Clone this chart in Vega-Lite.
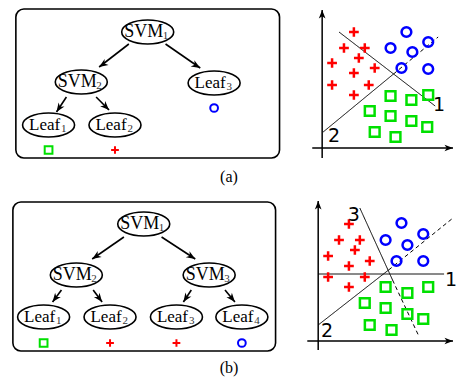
{
  "$schema": "https://vega.github.io/schema/vega-lite/v6.json",
  "width": 458,
  "height": 379,
  "autosize": {"type": "fit", "contains": "padding"},
  "padding": 0,
  "background": "white",
  "config": {"view": {"stroke": null}},
  "datasets": {
    "boxes": [
      {"x": 16, "y": 9, "x2": 282, "y2": 158},
      {"x": 13, "y": 202, "x2": 278, "y2": 351}
    ],
    "edges": [
      {"x": 130, "y": 44, "x2": 100, "y2": 67, "angle": 236.3},
      {"x": 167, "y": 44, "x2": 202, "y2": 68, "angle": 121},
      {"x": 67, "y": 97, "x2": 57, "y2": 112, "angle": 213.7},
      {"x": 97, "y": 97, "x2": 110, "y2": 110, "angle": 135},
      {"x": 125, "y": 237, "x2": 93, "y2": 259, "angle": 236.7},
      {"x": 163, "y": 237, "x2": 197, "y2": 259, "angle": 121.7},
      {"x": 62, "y": 290, "x2": 53, "y2": 302, "angle": 216.9},
      {"x": 94, "y": 290, "x2": 103, "y2": 302, "angle": 143.1},
      {"x": 193, "y": 290, "x2": 185, "y2": 302, "angle": 213.7},
      {"x": 227, "y": 290, "x2": 237, "y2": 302, "angle": 140.2}
    ],
    "nodes": [
      {"x": 149, "y": 32, "name": "SVM", "sub": "1"},
      {"x": 82, "y": 82, "name": "SVM", "sub": "2"},
      {"x": 216, "y": 83, "name": "Leaf", "sub": "3"},
      {"x": 49, "y": 125, "name": "Leaf", "sub": "1"},
      {"x": 116, "y": 125, "name": "Leaf", "sub": "2"},
      {"x": 145, "y": 224, "name": "SVM", "sub": "1"},
      {"x": 77, "y": 275, "name": "SVM", "sub": "2"},
      {"x": 211, "y": 275, "name": "SVM", "sub": "3"},
      {"x": 44, "y": 317, "name": "Leaf", "sub": "1"},
      {"x": 111, "y": 317, "name": "Leaf", "sub": "2"},
      {"x": 178, "y": 317, "name": "Leaf", "sub": "3"},
      {"x": 244, "y": 317, "name": "Leaf", "sub": "4"}
    ],
    "leafmarks": [
      {"x": 49, "y": 150, "kind": "square"},
      {"x": 116, "y": 150, "kind": "plus"},
      {"x": 216, "y": 108, "kind": "circle"},
      {"x": 44, "y": 343, "kind": "square"},
      {"x": 111, "y": 343, "kind": "plus"},
      {"x": 178, "y": 343, "kind": "plus"},
      {"x": 244, "y": 343, "kind": "circle"}
    ],
    "seps": [
      {"x": 342, "y": 32, "x2": 439, "y2": 106, "dash": "solid"},
      {"x": 326, "y": 132, "x2": 397, "y2": 74, "dash": "solid"},
      {"x": 397, "y": 74, "x2": 442, "y2": 37, "dash": "dashed"},
      {"x": 321, "y": 274, "x2": 448, "y2": 274, "dash": "solid"},
      {"x": 363, "y": 208, "x2": 396, "y2": 280, "dash": "solid"},
      {"x": 396, "y": 280, "x2": 422, "y2": 335, "dash": "dashed"},
      {"x": 321, "y": 325, "x2": 392, "y2": 270, "dash": "solid"},
      {"x": 392, "y": 270, "x2": 457, "y2": 218, "dash": "dashed"}
    ],
    "axes": [
      {"x": 325, "y": 158, "x2": 325, "y2": 10, "angle": 0},
      {"x": 315, "y": 148, "x2": 457, "y2": 148, "angle": 90},
      {"x": 321, "y": 350, "x2": 321, "y2": 201, "angle": 0},
      {"x": 310, "y": 341, "x2": 457, "y2": 341, "angle": 90}
    ],
    "points": [
      {"x": 357, "y": 32, "kind": "plus"}, {"x": 347, "y": 48, "kind": "plus"},
      {"x": 368, "y": 48, "kind": "plus"}, {"x": 362, "y": 58, "kind": "plus"},
      {"x": 335, "y": 63, "kind": "plus"}, {"x": 378, "y": 68, "kind": "plus"},
      {"x": 357, "y": 73, "kind": "plus"}, {"x": 335, "y": 85, "kind": "plus"},
      {"x": 372, "y": 85, "kind": "plus"}, {"x": 357, "y": 95, "kind": "plus"},
      {"x": 410, "y": 32, "kind": "circle"}, {"x": 394, "y": 48, "kind": "circle"},
      {"x": 416, "y": 52, "kind": "circle"}, {"x": 432, "y": 42, "kind": "circle"},
      {"x": 405, "y": 68, "kind": "circle"}, {"x": 432, "y": 69, "kind": "circle"},
      {"x": 394, "y": 96, "kind": "square"}, {"x": 415, "y": 100, "kind": "square"},
      {"x": 432, "y": 95, "kind": "square"}, {"x": 373, "y": 111, "kind": "square"},
      {"x": 394, "y": 116, "kind": "square"}, {"x": 415, "y": 121, "kind": "square"},
      {"x": 431, "y": 127, "kind": "square"}, {"x": 378, "y": 132, "kind": "square"},
      {"x": 399, "y": 137, "kind": "square"},
      {"x": 352, "y": 224, "kind": "plus"}, {"x": 342, "y": 240, "kind": "plus"},
      {"x": 363, "y": 240, "kind": "plus"}, {"x": 358, "y": 250, "kind": "plus"},
      {"x": 331, "y": 256, "kind": "plus"}, {"x": 373, "y": 261, "kind": "plus"},
      {"x": 352, "y": 266, "kind": "plus"}, {"x": 331, "y": 277, "kind": "plus"},
      {"x": 368, "y": 277, "kind": "plus"}, {"x": 352, "y": 287, "kind": "plus"},
      {"x": 405, "y": 223, "kind": "circle"}, {"x": 389, "y": 240, "kind": "circle"},
      {"x": 411, "y": 245, "kind": "circle"}, {"x": 427, "y": 234, "kind": "circle"},
      {"x": 400, "y": 261, "kind": "circle"}, {"x": 427, "y": 261, "kind": "circle"},
      {"x": 389, "y": 287, "kind": "square"}, {"x": 411, "y": 293, "kind": "square"},
      {"x": 432, "y": 287, "kind": "square"}, {"x": 368, "y": 303, "kind": "square"},
      {"x": 389, "y": 308, "kind": "square"}, {"x": 411, "y": 314, "kind": "square"},
      {"x": 427, "y": 319, "kind": "square"}, {"x": 373, "y": 325, "kind": "square"},
      {"x": 395, "y": 330, "kind": "square"}
    ],
    "numbers": [
      {"x": 443, "y": 105, "text": "1"},
      {"x": 337, "y": 136, "text": "2"},
      {"x": 357, "y": 215, "text": "3"},
      {"x": 330, "y": 331, "text": "2"},
      {"x": 455, "y": 280, "text": "1"}
    ],
    "captions": [
      {"x": 231, "y": 177, "text": "(a)"},
      {"x": 231, "y": 368, "text": "(b)"}
    ]
  },
  "encoding": {
    "x": {"field": "x", "type": "quantitative", "scale": {"domain": [0, 458], "nice": false, "zero": false}, "axis": null},
    "y": {"field": "y", "type": "quantitative", "scale": {"domain": [0, 379], "nice": false, "zero": false, "reverse": true}, "axis": null}
  },
  "layer": [
    {
      "data": {"name": "boxes"},
      "mark": {"type": "rect", "fillOpacity": 0, "stroke": "black", "strokeWidth": 1.6, "cornerRadius": 8},
      "encoding": {"x2": {"field": "x2"}, "y2": {"field": "y2"}}
    },
    {
      "data": {"name": "edges"},
      "mark": {"type": "rule", "color": "black", "strokeWidth": 1.6},
      "encoding": {"x2": {"field": "x2"}, "y2": {"field": "y2"}}
    },
    {
      "data": {"name": "edges"},
      "mark": {"type": "point", "shape": "M 0 0 L 0.75 1.9 L 0 1.35 L -0.75 1.9 Z", "filled": true, "color": "black", "opacity": 1, "size": 90},
      "encoding": {
        "x": {"field": "x2", "type": "quantitative", "axis": null},
        "y": {"field": "y2", "type": "quantitative", "axis": null},
        "angle": {"field": "angle", "type": "quantitative", "scale": null}
      }
    },
    {
      "data": {"name": "nodes"},
      "mark": {"type": "point", "shape": "M -1 0 A 1 0.46 0 1 1 1 0 A 1 0.46 0 1 1 -1 0 Z", "filled": true, "fill": "white", "stroke": "black", "strokeWidth": 1.6, "opacity": 1, "size": 2704}
    },
    {
      "data": {"name": "nodes"},
      "transform": [{"filter": "datum.name === 'SVM'"}],
      "mark": {"type": "text", "font": "Liberation Serif", "fontSize": 18, "dx": -4, "align": "center", "baseline": "middle", "color": "black"},
      "encoding": {"text": {"field": "name"}}
    },
    {
      "data": {"name": "nodes"},
      "transform": [{"filter": "datum.name === 'SVM'"}],
      "mark": {"type": "text", "font": "Liberation Serif", "fontSize": 11, "dx": 15, "dy": 4, "align": "left", "baseline": "middle", "color": "#333"},
      "encoding": {"text": {"field": "sub"}}
    },
    {
      "data": {"name": "nodes"},
      "transform": [{"filter": "datum.name === 'Leaf'"}],
      "mark": {"type": "text", "font": "Liberation Serif", "fontSize": 17, "dx": -4, "align": "center", "baseline": "middle", "color": "black"},
      "encoding": {"text": {"field": "name"}}
    },
    {
      "data": {"name": "nodes"},
      "transform": [{"filter": "datum.name === 'Leaf'"}],
      "mark": {"type": "text", "font": "Liberation Serif", "fontSize": 11, "dx": 12.5, "dy": 4, "align": "left", "baseline": "middle", "color": "#333"},
      "encoding": {"text": {"field": "sub"}}
    },
    {
      "data": {"name": "leafmarks"},
      "mark": {"type": "point", "filled": false, "strokeWidth": 2, "opacity": 1, "size": 60},
      "encoding": {
        "shape": {"field": "kind", "type": "nominal", "scale": {"domain": ["square", "plus", "circle"], "range": ["square", "M -1 0 L 1 0 M 0 -1 L 0 1", "circle"]}, "legend": null},
        "color": {"field": "kind", "type": "nominal", "scale": {"domain": ["square", "plus", "circle"], "range": ["#00e000", "#ff0000", "#0000ff"]}, "legend": null}
      }
    },
    {
      "data": {"name": "seps"},
      "mark": {"type": "rule", "color": "black", "strokeWidth": 1},
      "encoding": {
        "x2": {"field": "x2"},
        "y2": {"field": "y2"},
        "strokeDash": {"field": "dash", "type": "nominal", "scale": {"domain": ["solid", "dashed"], "range": [[1, 0], [4, 3]]}, "legend": null}
      }
    },
    {
      "data": {"name": "axes"},
      "mark": {"type": "rule", "color": "black", "strokeWidth": 1.5},
      "encoding": {"x2": {"field": "x2"}, "y2": {"field": "y2"}}
    },
    {
      "data": {"name": "axes"},
      "mark": {"type": "point", "shape": "M 0 0 L 0.75 1.9 L 0 1.4 L -0.75 1.9 Z", "filled": true, "color": "black", "opacity": 1, "size": 80},
      "encoding": {
        "x": {"field": "x2", "type": "quantitative", "axis": null},
        "y": {"field": "y2", "type": "quantitative", "axis": null},
        "angle": {"field": "angle", "type": "quantitative", "scale": null}
      }
    },
    {
      "data": {"name": "points"},
      "mark": {"type": "point", "filled": false, "strokeWidth": 2.5, "opacity": 1, "size": 95},
      "encoding": {
        "shape": {"field": "kind", "type": "nominal", "scale": {"domain": ["square", "plus", "circle"], "range": ["square", "M -1 0 L 1 0 M 0 -1 L 0 1", "circle"]}, "legend": null},
        "color": {"field": "kind", "type": "nominal", "scale": {"domain": ["square", "plus", "circle"], "range": ["#00e000", "#ff0000", "#0000ff"]}, "legend": null}
      }
    },
    {
      "data": {"name": "numbers"},
      "mark": {"type": "text", "font": "DejaVu Sans", "fontSize": 19, "align": "center", "baseline": "middle", "color": "black"},
      "encoding": {"text": {"field": "text"}}
    },
    {
      "data": {"name": "captions"},
      "mark": {"type": "text", "font": "Liberation Serif", "fontSize": 16, "align": "center", "baseline": "middle", "color": "black"},
      "encoding": {"text": {"field": "text"}}
    }
  ]
}
